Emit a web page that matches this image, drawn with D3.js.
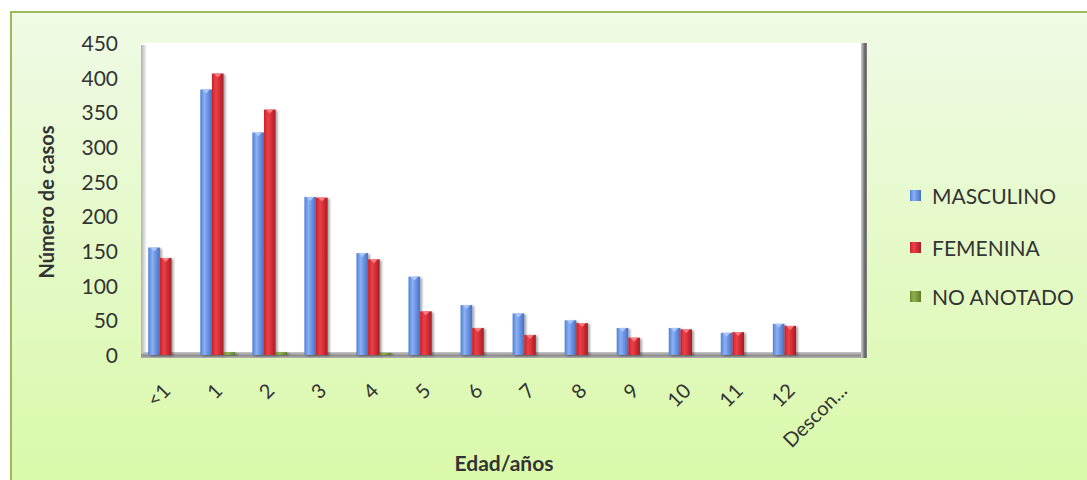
<!DOCTYPE html>
<html>
<head>
<meta charset="utf-8">
<script src="https://cdn.jsdelivr.net/npm/d3@7"></script>
<style>
  html, body { margin: 0; padding: 0; background: #ffffff; }
  svg { display: block; }
  text { font-family: Lato, "Open Sans", sans-serif; fill: #333333; }
</style>
</head>
<body>
<svg id="chart" width="1087" height="480"></svg>
<script>
// Casos por edad y sexo
const categories = ["<1", "1", "2", "3", "4", "5", "6", "7", "8", "9", "10", "11", "12", "Descon..."];
const seriesNames = ["MASCULINO", "FEMENINA", "NO ANOTADO"];
const masculino = [155, 383, 321, 228, 147, 113, 72, 60, 50, 39, 39, 32, 45, 0];
const femenina  = [140, 406, 354, 227, 138, 63, 39, 29, 46, 25, 37, 33, 42, 0];
const noAnotado = [0, 4, 4, 0, 3, 0, 0, 0, 0, 0, 0, 0, 0, 0];
const yTicks = [0, 50, 100, 150, 200, 250, 300, 350, 400, 450];

const seriesValues = [masculino, femenina, noAnotado];

const svg = d3.select("#chart");
const defs = svg.append("defs");

// Chart area background
const bg = defs.append("linearGradient").attr("id", "bgGrad")
  .attr("x1", 0).attr("y1", 0).attr("x2", 0).attr("y2", 1);
bg.append("stop").attr("offset", "0%").attr("stop-color", "#f0fae6");
bg.append("stop").attr("offset", "100%").attr("stop-color", "#d8f9a6");

// Cylinder-like shading for each series
const palettes = [
  { id: "gBlue",  edge: "#5080d4", mid: "#8ab0f6", dark: "#456fc2", cap: "#b3cdfc" },
  { id: "gRed",   edge: "#c4232b", mid: "#ef3f46", dark: "#a81c23", cap: "#ff8a8f" },
  { id: "gGreen", edge: "#6a8a30", mid: "#8fb04a", dark: "#5c7a28", cap: "#b5d27a" }
];
palettes.forEach(p => {
  const g = defs.append("linearGradient").attr("id", p.id)
    .attr("x1", 0).attr("y1", 0).attr("x2", 1).attr("y2", 0);
  g.append("stop").attr("offset", "0%").attr("stop-color", p.edge);
  g.append("stop").attr("offset", "35%").attr("stop-color", p.mid);
  g.append("stop").attr("offset", "100%").attr("stop-color", p.dark);
});

const shadow = defs.append("filter").attr("id", "barShadow")
  .attr("x", "-30%").attr("y", "-10%").attr("width", "160%").attr("height", "120%");
shadow.append("feDropShadow").attr("dx", 2).attr("dy", 1).attr("stdDeviation", 1.2)
  .attr("flood-color", "#000").attr("flood-opacity", 0.35);

const soft = defs.append("filter").attr("id", "soft");
soft.append("feGaussianBlur").attr("stdDeviation", 0.5);

const wallShadow = defs.append("linearGradient").attr("id", "wallLeft")
  .attr("x1", 0).attr("y1", 0).attr("x2", 1).attr("y2", 0);
wallShadow.append("stop").attr("offset", "0%").attr("stop-color", "#b0b0b0");
wallShadow.append("stop").attr("offset", "100%").attr("stop-color", "#ffffff");

const floorGrad = defs.append("linearGradient").attr("id", "floorGrad")
  .attr("x1", 0).attr("y1", 0).attr("x2", 0).attr("y2", 1);
floorGrad.append("stop").attr("offset", "0%").attr("stop-color", "#c9c9c9");
floorGrad.append("stop").attr("offset", "60%").attr("stop-color", "#8c8c8c");
floorGrad.append("stop").attr("offset", "100%").attr("stop-color", "#b5b5b5");

const rightGrad = defs.append("linearGradient").attr("id", "rightGrad")
  .attr("x1", 0).attr("y1", 0).attr("x2", 1).attr("y2", 0);
rightGrad.append("stop").attr("offset", "0%").attr("stop-color", "#d0d0d0");
rightGrad.append("stop").attr("offset", "70%").attr("stop-color", "#5e5e5e");
rightGrad.append("stop").attr("offset", "100%").attr("stop-color", "#8a8a8a");

// Outer chart area
svg.append("rect")
  .attr("x", 11).attr("y", 12).attr("width", 1100).attr("height", 500)
  .attr("fill", "url(#bgGrad)").attr("stroke", "#9bbb59").attr("stroke-width", 2);

const plot = { left: 142, right: 866, top: 43, bottom: 355 };

const x0 = d3.scaleBand().domain(categories)
  .range([plot.left, plot.right]).paddingInner(0.33).paddingOuter(0.12);
const x1 = d3.scaleBand().domain(d3.range(seriesNames.length))
  .range([0, x0.bandwidth()]).padding(0);
const y = d3.scaleLinear().domain([0, 450]).range([plot.bottom, plot.top]);

// Back wall with left shading
svg.append("rect")
  .attr("x", plot.left).attr("y", plot.top)
  .attr("width", plot.right - plot.left).attr("height", plot.bottom - plot.top)
  .attr("fill", "#ffffff");
svg.append("rect")
  .attr("x", plot.left - 1).attr("y", plot.top + 2)
  .attr("width", 6).attr("height", plot.bottom - plot.top)
  .attr("fill", "url(#wallLeft)").attr("filter", "url(#soft)");

// Floor and right edge
svg.append("rect")
  .attr("x", plot.left - 1).attr("y", plot.bottom - 3)
  .attr("width", plot.right - plot.left + 1).attr("height", 6)
  .attr("fill", "url(#floorGrad)").attr("filter", "url(#soft)");
svg.append("rect")
  .attr("x", plot.right - 5).attr("y", plot.top)
  .attr("width", 6).attr("height", plot.bottom - plot.top + 3)
  .attr("fill", "url(#rightGrad)").attr("filter", "url(#soft)");

// Bars
const groups = svg.append("g").selectAll("g")
  .data(categories)
  .join("g")
  .attr("transform", d => `translate(${x0(d)},0)`);

groups.each(function (cat, ci) {
  const g = d3.select(this);
  seriesValues.forEach((vals, si) => {
    const v = vals[ci];
    if (v <= 0) return;
    const bx = x1(si), bw = x1.bandwidth();
    const top = y(v);
    g.append("rect")
      .attr("x", bx).attr("y", top)
      .attr("width", bw).attr("height", y(0) - top)
      .attr("fill", `url(#${palettes[si].id})`)
      .attr("filter", "url(#barShadow)");
    if (y(0) - top > 6) {
      g.append("path")
        .attr("d", `M${bx + 2},${top} L${bx + bw - 2},${top} L${bx + bw / 2},${top + 4} Z`)
        .attr("fill", palettes[si].cap).attr("opacity", 0.85);
    }
  });
});

// Y axis labels
const yAxis = d3.axisLeft(y).tickValues(yTicks).tickSize(0).tickPadding(0);
const yg = svg.append("g").attr("transform", "translate(118,0)").call(yAxis);
yg.select(".domain").remove();
yg.selectAll("text")
  .style("font-family", "Lato, sans-serif").style("font-size", "21px")
  .attr("fill", "#333333").attr("dy", "0.36em");

// X axis labels, rotated
const xAxis = d3.axisBottom(x0).tickSize(0).tickPadding(0);
const xg = svg.append("g").call(xAxis);
xg.select(".domain").remove();
xg.selectAll(".tick").attr("transform", d => `translate(${x0(d) + x0.bandwidth() / 2 + 6},392)`);
xg.selectAll("text")
  .attr("y", 0).attr("dy", 0)
  .attr("transform", "rotate(-45)")
  .attr("text-anchor", "end")
  .style("font-family", "Lato, sans-serif").style("font-size", "20px")
  .attr("fill", "#333333");

// Axis titles
svg.append("text")
  .attr("transform", `translate(54,${(plot.top + plot.bottom) / 2 + 3}) rotate(-90)`)
  .attr("text-anchor", "middle")
  .style("font-size", "20px").style("font-weight", "bold")
  .text("Número de casos");
svg.append("text")
  .attr("x", (plot.left + plot.right) / 2).attr("y", 471)
  .attr("text-anchor", "middle")
  .style("font-size", "21px").style("font-weight", "bold")
  .text("Edad/años");

// Legend
const legendY = [196, 248, 297];
const legend = svg.append("g").selectAll("g")
  .data(seriesNames)
  .join("g")
  .attr("transform", (d, i) => `translate(910,${legendY[i]})`);
legend.append("rect")
  .attr("x", 0).attr("y", -6).attr("width", 11).attr("height", 11)
  .attr("fill", (d, i) => `url(#${palettes[i].id})`);
legend.append("text")
  .attr("x", 22).attr("y", 0).attr("dy", "0.36em")
  .style("font-size", "21px")
  .text(d => d);
</script>
</body>
</html>
